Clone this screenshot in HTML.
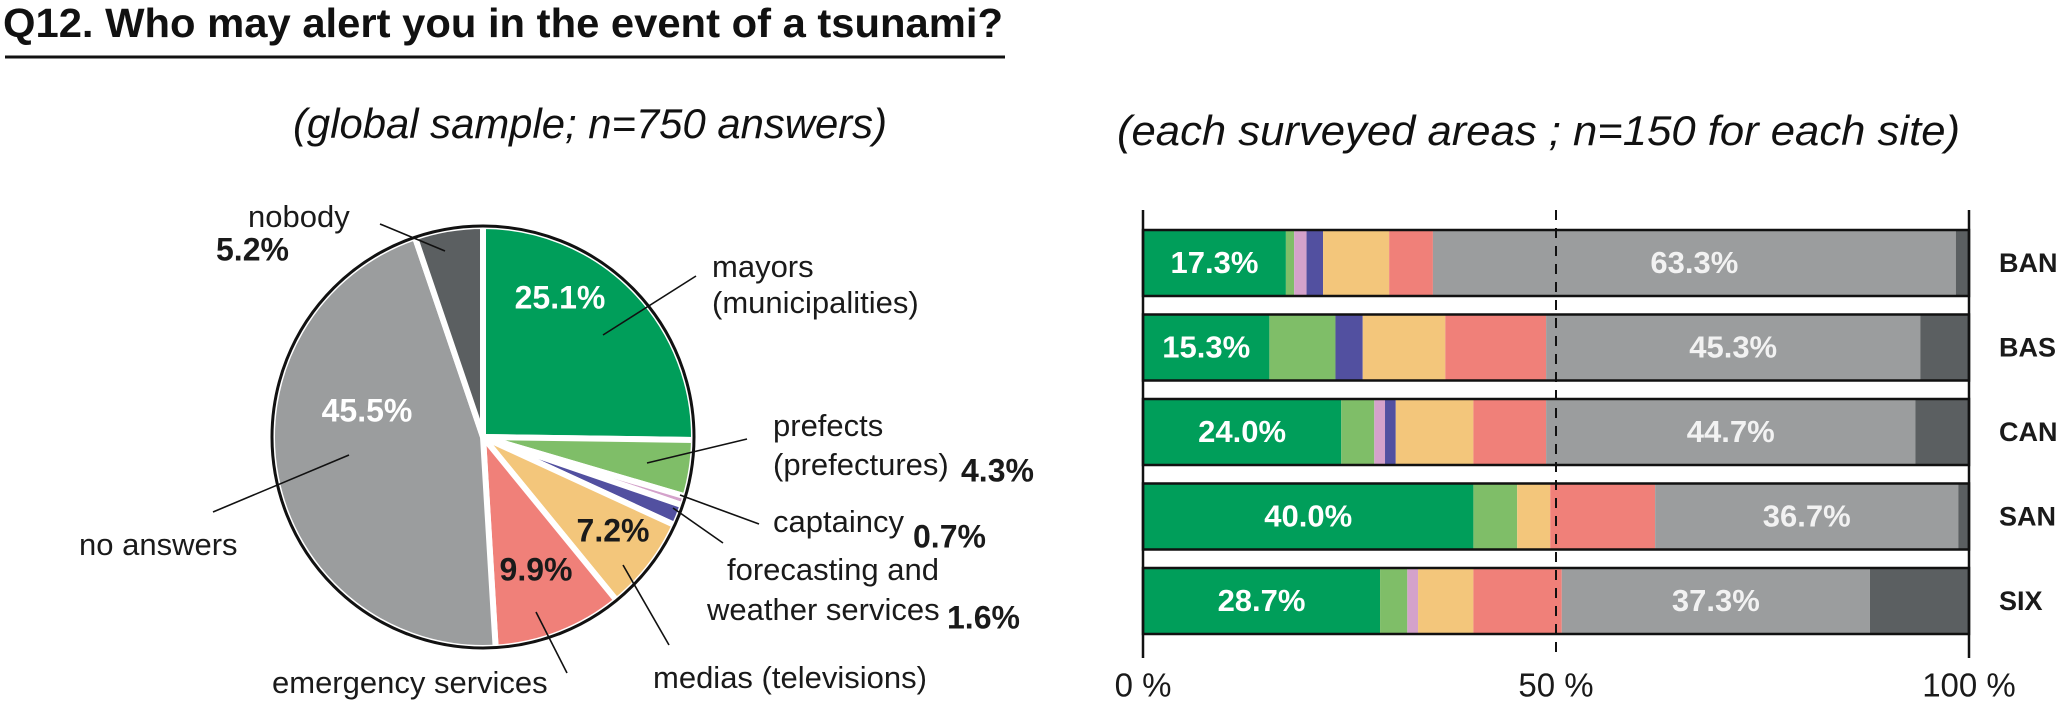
<!DOCTYPE html>
<html><head><meta charset="utf-8"><style>
html,body{margin:0;padding:0;background:#fff;}
svg{display:block;}
text{font-family:"Liberation Sans",sans-serif;}
</style></head><body>
<svg id="chart" width="2067" height="711" viewBox="0 0 2067 711" xmlns="http://www.w3.org/2000/svg">
<text x="3" y="37" font-size="41" font-weight="bold" textLength="1000" lengthAdjust="spacingAndGlyphs" fill="#111">Q12. Who may alert you in the event of a tsunami?</text>
<line x1="5" y1="57" x2="1005" y2="57" stroke="#111" stroke-width="3"/>
<text x="293" y="138" font-size="42" font-style="italic" textLength="594" lengthAdjust="spacingAndGlyphs" fill="#111">(global sample; n=750 answers)</text>
<text x="1117" y="145" font-size="42" font-style="italic" textLength="843" lengthAdjust="spacingAndGlyphs" fill="#111">(each surveyed areas ; n=150 for each site)</text>
<g id="pie"></g>
<g id="pielabels"></g>
<g id="bars"></g>
</svg>
<script>
// ---- pie data ----
const pieCategories = ["mayors","prefects","captaincy","forecasting","medias","emergency","no answers","nobody"];
const pieValues = [25.1, 4.3, 0.7, 1.6, 7.2, 9.9, 45.5, 5.2];
// ---- bar data ----
const barSites = ["BAN","BAS","CAN","SAN","SIX"];
const mayorsVals      = [17.3, 15.3, 24.0, 40.0, 28.7];
const prefectsVals    = [1.0, 8.0, 4.0, 5.3, 3.3];
const captaincyVals   = [1.5, 0, 1.3, 0, 1.3];
const forecastingVals = [2.0, 3.3, 1.3, 0, 0];
const mediasVals      = [8.0, 10.0, 9.4, 4.0, 6.7];
const emergencyVals   = [5.3, 12.2, 8.8, 12.7, 10.7];
const noAnswersVals   = [63.3, 45.3, 44.7, 36.7, 37.3];
const nobodyVals      = [1.6, 5.9, 6.5, 1.3, 12.0];
const tickValues = [0, 50, 100];
const tickLabels = ["0 %", "50 %", "100 %"];

const NS = "http://www.w3.org/2000/svg";
const colors = ["#009e5a","#7fbe68","#d4a2cb","#5250a0","#f3c67b","#f08079","#9b9d9e","#5b5f61"];
function mk(tag, attrs, parent){const e=document.createElementNS(NS,tag);for(const k in attrs)e.setAttribute(k,attrs[k]);parent.appendChild(e);return e;}

// ---- pie ----
const pie = document.getElementById("pie");
const cx=483, cy=437, R=211;
const total = pieValues.reduce((a,b)=>a+b,0);
function pt(a,r){return [cx+r*Math.sin(a), cy-r*Math.cos(a)];}
let ang=0;
const pieNames=["slice-mayors","slice-prefects","slice-captaincy","slice-forecasting","slice-medias","slice-emergency","slice-no-answers","slice-nobody"];
pieValues.forEach((v,i)=>{
  const a0=ang, a1=ang+v/total*2*Math.PI; ang=a1;
  const p0=pt(a0,R), p1=pt(a1,R);
  const large=(a1-a0)>Math.PI?1:0;
  const p=mk("path",{d:`M${cx},${cy} L${p0[0]},${p0[1]} A${R},${R} 0 ${large} 1 ${p1[0]},${p1[1]} Z`,fill:colors[i],stroke:"#fff","stroke-width":6,"stroke-linejoin":"round"},pie);
  
  
});
const outline=mk("circle",{cx:cx,cy:cy,r:R,fill:"none",stroke:"#111","stroke-width":3},pie);



// ---- pie labels ----
const pl=document.getElementById("pielabels");
function txt(x,y,s,opts,name){
  const t=mk("text",Object.assign({x:x,y:y,"font-size":31,fill:"#1a1a1a","dominant-baseline":"middle"},opts||{}),pl);
  t.textContent=s;
  
  
  return t;
}
function ln(x1,y1,x2,y2,name){
  const l=mk("line",{x1:x1,y1:y1,x2:x2,y2:y2,stroke:"#111","stroke-width":1.6},pl);
  
  
}
const B={"font-weight":"bold","font-size":32};
txt(248,219,"nobody",{},"label-nobody");
txt(216,252,"5.2%",B,"value-nobody");
ln(380,224,445,251,"leader-nobody");
txt(712,269,"mayors",{},"label-mayors");
txt(712,305,"(municipalities)",{},"label-mayors-2");
ln(696,276,603,335,"leader-mayors");
txt(560,300,"25.1%",Object.assign({fill:"#fff","text-anchor":"middle"},B),"value-mayors");
txt(773,428,"prefects",{},"label-prefects");
txt(773,467,"(prefectures)",{},"label-prefects-2");
txt(961,473,"4.3%",B,"value-prefects");
ln(747,439,647,463,"leader-prefects");
txt(773,524,"captaincy",{},"label-captaincy");
txt(913,539,"0.7%",B,"value-captaincy");
ln(759,524,680,495,"leader-captaincy");
txt(727,572,"forecasting and",{},"label-forecasting");
txt(707,612,"weather services",{},"label-forecasting-2");
txt(947,620,"1.6%",B,"value-forecasting");
ln(723,543,673,508,"leader-forecasting");
txt(653,680,"medias (televisions)",{},"label-medias");
ln(669,645,623,565,"leader-medias");
txt(613,533,"7.2%",Object.assign({"text-anchor":"middle"},B),"value-medias");
txt(536,572,"9.9%",Object.assign({"text-anchor":"middle"},B),"value-emergency");
txt(272,685,"emergency services",{},"label-emergency");
ln(567,673,536,612,"leader-emergency");
txt(367,413,"45.5%",Object.assign({fill:"#fff","text-anchor":"middle"},B),"value-no-answers");
txt(79,547,"no answers",{},"label-no-answers");
ln(213,512,349,455,"leader-no-answers");

// ---- bars ----
const bars=document.getElementById("bars");
const X0=1143, X1=1969;
function xs(v){return X0+(X1-X0)*v/100;}
const barTop0=230, barPitch=84.5, barH=66;
function ys(i){return barTop0+i*barPitch;}
const series=[mayorsVals,prefectsVals,captaincyVals,forecastingVals,mediasVals,emergencyVals,noAnswersVals,nobodyVals];
const serNames=["mayors","prefects","captaincy","forecasting","medias","emergency","no-answers","nobody"];
barSites.forEach((site,i)=>{
  let acc=0; const y=ys(i);
  series.forEach((s,k)=>{
    const v=s[i]; if(v<=0){return;}
    const r=mk("rect",{x:xs(acc),y:y,width:xs(acc+v)-xs(acc),height:barH,fill:colors[k]},bars);
    
    
    if(k===0||k===6){
      const t=mk("text",{x:(xs(acc)+xs(acc+v))/2,y:y+barH/2+2,"text-anchor":"middle","dominant-baseline":"middle","font-size":31,"font-weight":"bold",fill:k===0?"#fff":"#f2f2f2"},bars);
      t.textContent=v.toFixed(1)+"%";
      
      
    }
    acc+=v;
  });
  const o=mk("rect",{x:X0,y:y,width:X1-X0,height:barH,fill:"none",stroke:"#111","stroke-width":2.5},bars);
  
  
  const lab=mk("text",{x:1999,y:y+barH/2+2,"dominant-baseline":"middle","font-size":27,"font-weight":"bold",fill:"#1a1a1a"},bars);
  lab.textContent=site;
  
  
});
tickValues.forEach((v,i)=>{
  const x=xs(v);
  const l=mk("line",{x1:x,y1:210,x2:x,y2:658,stroke:"#111","stroke-width":i===1?2:2.5,"stroke-dasharray":i===1?"10,8":"none"},bars);
  
  
  const t=mk("text",{x:x,y:688,"text-anchor":"middle","dominant-baseline":"middle","font-size":33,fill:"#1a1a1a"},bars);
  t.textContent=tickLabels[i];
  
  
});
</script>
</body></html>
